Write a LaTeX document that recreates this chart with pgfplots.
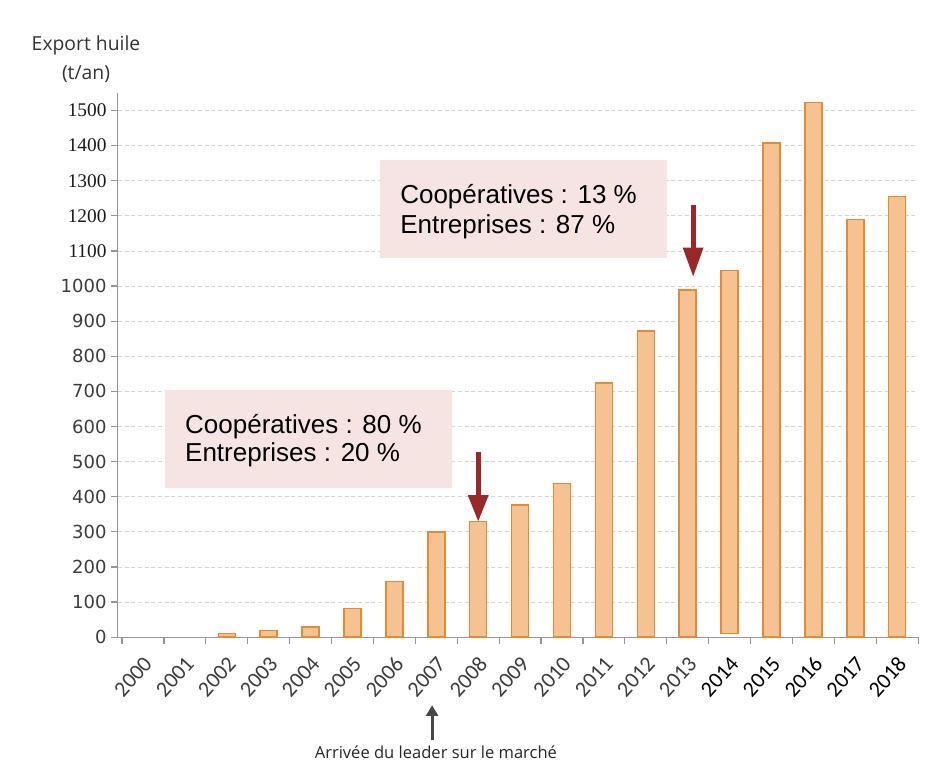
\documentclass[border=0pt]{standalone}
\usepackage{pgfplots}
\pgfplotsset{compat=1.18}
\usepackage{fontspec}
\setmainfont{Liberation Sans}
\newfontfamily\vsans{DejaVu Sans}
\newfontfamily\tser{Liberation Serif}
\newfontfamily\osans{Open Sans}
\newfontfamily\calib{Carlito}
\usetikzlibrary{arrows.meta}
\definecolor{barfill}{RGB}{246,194,146}
\definecolor{baredge}{RGB}{231,138,52}
\definecolor{boxfill}{RGB}{246,228,227}
\definecolor{arrred}{RGB}{155,40,40}
\definecolor{gridc}{RGB}{212,212,212}
\definecolor{axc}{RGB}{150,150,150}
\definecolor{lab}{RGB}{60,60,60}
\newcommand{\vs}[1]{{\color{lab}\vsans\fontsize{13.5}{15}\selectfont #1}}
\newcommand{\ts}[1]{{\color{black!90}\tser\fontsize{14.5}{16}\selectfont #1}}
\newcommand{\cg}[1]{{\color{lab}\calib\fontsize{16.5}{18}\selectfont #1}}
\newcommand{\cb}[1]{{\color{black}\calib\fontsize{16.5}{18}\selectfont #1}}
\begin{document}
\begin{tikzpicture}
\begin{axis}[
  scale only axis, width=600pt, height=408pt,
  xmin=-0.6, xmax=18.5, ymin=0, ymax=1550,
  clip=false,
  axis x line*=bottom, axis y line*=left,
  axis line style={axc, line width=0.9pt, -},
  ybar stacked, bar width=12.75pt,
  xtick={0,...,18},
  xticklabels={\cg{2000},\cg{2001},\cg{2002},\cg{2003},\cg{2004},\cg{2005},\cg{2006},\cg{2007},\cg{2008},\cg{2009},\cg{2010},\cg{2011},\cg{2012},\cg{2013},\cb{2014},\cb{2015},\cb{2016},\cb{2017},\cb{2018}},
  xticklabel style={anchor=east, inner sep=1pt, xshift=4.5pt, yshift=-11.5pt, rotate=48},
  major x tick style={draw=none},
  minor xtick={-0.5,0.5,...,18.5},
  minor x tick style={axc, line width=0.9pt},
  minor tick length=5pt,
  ytick={0,100,...,1500},
  yticklabels={\vs{0},\vs{100},\vs{200},\vs{300},\vs{400},\vs{500},\vs{600},\vs{700},\vs{800},\vs{900},\vs{1000},\ts{1100},\ts{1200},\ts{1300},\ts{1400},\ts{1500}},
  major y tick style={axc, line width=0.9pt},
  major tick length=5pt,
  tick align=outside,
  ymajorgrids,
  grid style={gridc, dash pattern=on 3pt off 2pt, line width=0.6pt},
]
\addplot[draw=none, fill=none, forget plot] coordinates {
(2,0) (3,0) (4,0) (5,0) (6,0) (7,0) (8,0) (9,0) (10,0) (11,0) (12,0) (13,0)
(14,10) (15,0) (16,0) (17,0) (18,0)};
\addplot[fill=barfill, draw=baredge, line width=1.1pt] coordinates {
(2,11) (3,19) (4,29) (5,82) (6,158) (7,300) (8,329) (9,377) (10,437)
(11,724) (12,872) (13,989) (14,1035) (15,1407) (16,1523) (17,1190) (18,1255)};
\coordinate (B1a) at (axis cs:0.525,424.5);
\coordinate (B1b) at (axis cs:7.375,703.7);
\coordinate (B2a) at (axis cs:5.656,1080);
\coordinate (B2b) at (axis cs:12.506,1359);
\coordinate (T1a) at (axis cs:1.0,581);
\coordinate (T1b) at (axis cs:1.0,499);
\coordinate (T2a) at (axis cs:6.134,1236.5);
\coordinate (T2b) at (axis cs:6.134,1151);
\coordinate (A1a) at (axis cs:8,528);
\coordinate (A1b) at (axis cs:8,328.5);
\coordinate (A2a) at (axis cs:13.13,1231);
\coordinate (A2b) at (axis cs:13.13,1026);
\coordinate (A3a) at (axis cs:6.9,-293);
\coordinate (A3b) at (axis cs:6.9,-194);
\coordinate (L3) at (axis cs:6.99,-327.6);
\coordinate (YL1) at (axis cs:-1.36,1672);
\coordinate (YL2) at (axis cs:-1.36,1587);
\coordinate (TL) at (axis cs:-3.413,1814.8);
\coordinate (BR) at (axis cs:18.926,-364.7);
\end{axis}
% annotation boxes
\fill[boxfill] (B1a) rectangle (B1b);
\fill[boxfill] (B2a) rectangle (B2b);
\node[anchor=base west, inner sep=0pt, font=\fontsize{19.5}{22}\selectfont] at (T1a) {Coopératives : 80 \%};
\node[anchor=base west, inner sep=0pt, font=\fontsize{19.5}{22}\selectfont] at (T1b) {Entreprises : 20 \%};
\node[anchor=base west, inner sep=0pt, font=\fontsize{19.5}{22}\selectfont] at (T2a) {Coopératives : 13 \%};
\node[anchor=base west, inner sep=0pt, font=\fontsize{19.5}{22}\selectfont] at (T2b) {Entreprises : 87 \%};
% red arrows
\draw[arrred, line width=3.75pt, -{Triangle[width=14.5pt,length=20pt]}] (A1a) -- (A1b);
\draw[arrred, line width=3.75pt, -{Triangle[width=14.5pt,length=22pt]}] (A2a) -- (A2b);
% bottom arrow and text
\draw[black!72, line width=2.2pt, -{Triangle[width=9pt,length=8pt]}] (A3a) -- (A3b);
\node[font=\osans\fontsize{12.4}{14}\selectfont, text=black!85] at (L3) {Arrivée du leader sur le marché};
% y label
\node[anchor=base, inner sep=0pt, font=\osans\fontsize{14.5}{16}\selectfont, text=black!80] at (YL1) {Export huile};
\node[anchor=base, inner sep=0pt, font=\osans\fontsize{14.5}{16}\selectfont, text=black!80] at (YL2) {(t/an)};
\path (TL) rectangle (BR);
\end{tikzpicture}
\end{document}
